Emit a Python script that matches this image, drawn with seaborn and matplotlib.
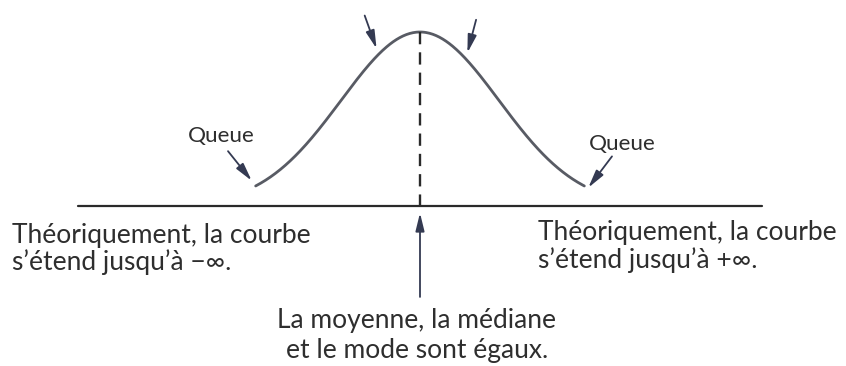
import numpy as np
import matplotlib
matplotlib.use("Agg")
import matplotlib.pyplot as plt
import seaborn as sns

# Normal curve in standard units (relative density, peak = 1)
MEAN = 0.0
SD = 1.0
TAIL_Z = 2.08          # the drawn curve stops at about +/-2.08 sd
AXIS_HALF_SPAN = 4.33  # horizontal axis extent, in sd
POINTER_Z = [-0.55, 0.6]  # points on the curve marked by the top arrows

TAIL_LABEL = "Queue"
LEFT_NOTE = ["Théoriquement, la courbe", "s\u2019étend jusqu\u2019à \u2212\u221e."]
RIGHT_NOTE = ["Théoriquement, la courbe", "s\u2019étend jusqu\u2019à +\u221e."]
CENTER_NOTE = ["La moyenne, la médiane", "et le mode sont égaux."]

sns.set_theme(style="white")
plt.rcParams["font.family"] = ["Lato", "DejaVu Sans"]

TEXT = "#2e2e2e"
CURVE = "#585b64"
ARROW = "#343a52"
NOTE_SIZE = 19
TAIL_SIZE = 16.2

z = np.linspace(MEAN - TAIL_Z * SD, MEAN + TAIL_Z * SD, 400)
dens = np.exp(-0.5 * ((z - MEAN) / SD) ** 2)

fig = plt.figure(figsize=(8.46, 3.66), dpi=100)
ax = fig.add_axes([0, 0, 1, 1])
ax.set_xlim(-5.316, 5.392)
ax.set_ylim(-0.920, 1.184)
ax.axis("off")

def rel(x):
    return np.exp(-0.5 * ((x - MEAN) / SD) ** 2)

# horizontal axis
sns.lineplot(x=[MEAN - AXIS_HALF_SPAN, MEAN + AXIS_HALF_SPAN], y=[0, 0],
             ax=ax, color="#2a2a2a", lw=1.6)
# the bell curve
sns.lineplot(x=z, y=dens, ax=ax, color=CURVE, lw=2.0)
# dashed line from the peak down to the axis
ax.plot([MEAN, MEAN], [rel(MEAN), 0.0], color="#2a2a2a", lw=1.7,
        dashes=(5.2, 3.4))

arrow_kw = dict(arrowstyle="-|>,head_length=0.9,head_width=0.22",
                color=ARROW, lw=1.3, shrinkA=0, shrinkB=0)

# arrows pointing at the upper part of the curve
for pz, dx in zip(POINTER_Z, [-0.15, 0.11]):
    ax.annotate("", xy=(pz, rel(pz) + 0.045), xytext=(pz + dx, rel(pz) + 0.235),
                arrowprops=arrow_kw)

# tail labels with arrows
ends = [(z[0], dens[0]), (z[-1], dens[-1])]
ax.text(-2.52, 0.368, TAIL_LABEL, ha="center", va="baseline",
        fontsize=TAIL_SIZE, color=TEXT)
ax.annotate("", xy=(ends[0][0] - 0.05, ends[0][1] + 0.03),
            xytext=(ends[0][0] - 0.35, ends[0][1] + 0.2), arrowprops=arrow_kw)
ax.text(2.56, 0.322, TAIL_LABEL, ha="center", va="baseline",
        fontsize=TAIL_SIZE, color=TEXT)
ax.annotate("", xy=(ends[1][0] + 0.05, ends[1][1] - 0.01),
            xytext=(ends[1][0] + 0.35, ends[1][1] + 0.17), arrowprops=arrow_kw)

# arrow from the centre note up to the mean
ax.annotate("", xy=(MEAN, -0.04), xytext=(MEAN, -0.523),
            arrowprops=arrow_kw)

# side and centre notes
for line, y in zip(LEFT_NOTE, [-0.213, -0.368]):
    ax.text(-5.165, y, line, ha="left", va="baseline", fontsize=NOTE_SIZE, color=TEXT)
for line, y in zip(RIGHT_NOTE, [-0.195, -0.356]):
    ax.text(1.49, y, line, ha="left", va="baseline", fontsize=NOTE_SIZE, color=TEXT)
for line, y in zip(CENTER_NOTE, [-0.701, -0.874]):
    ax.text(-0.04, y, line, ha="center", va="baseline", fontsize=NOTE_SIZE, color=TEXT)

fig.savefig("out.png", dpi=100, facecolor="white")
